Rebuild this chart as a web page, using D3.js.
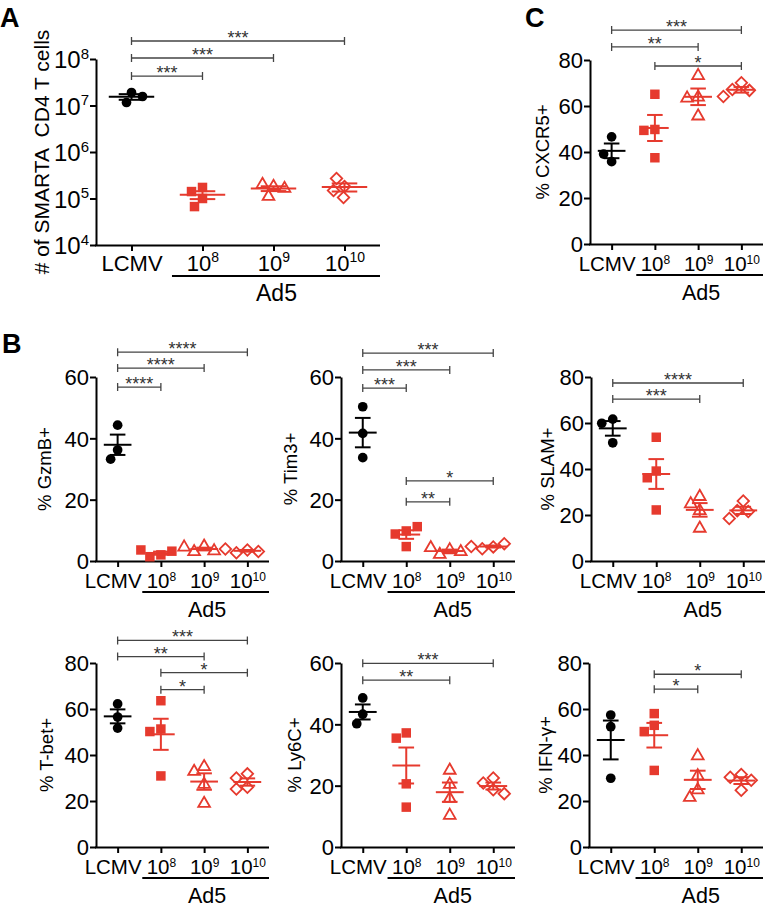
<!DOCTYPE html>
<html>
<head>
<meta charset="utf-8">
<script src="https://cdn.jsdelivr.net/npm/d3@7"></script>
<style>
    body { margin: 0; background: #fff; }
    svg { font-family: "Liberation Sans", Arial, Helvetica, sans-serif; }
</style>
</head>
<body>
<div id="stage"></div>
<script>
(function(d3) {
    'use strict';

    // groups on every x axis
    var groups = ['LCMV', '10^8', '10^9', '10^10'];
    var vectorLabel = 'Ad5';

    // per-mouse values, one array per group
    var cd4Counts = [[1.9e7, 1.16e7, 1.56e7], [1.73e5, 1.41e5, 1.0e5, 6.7e4], [1.81e5, 1.1e5, 1.64e5, 2.0e5], [1.81e5, 2.7e5, 1.49e5, 1.05e5]];
    var cxcr5 = [[46.6, 35.8, 39.1], [65.1, 49.8, 49.4, 37.5], [73.2, 63.8, 63.4, 55.6], [70.1, 67.2, 66.8, 64.1]];
    var gzmb = [[44.3, 36.2, 33.2], [2.0, 1.4, 3.2, 3.6], [4.8, 3.0, 3.3, 4.5], [3.6, 2.7, 3.1, 3.9]];
    var tim3 = [[50.3, 41.6, 33.7], [9.8, 8.8, 11.2, 4.7], [3.6, 2.1, 3.0, 4.3], [4.6, 4.0, 5.6, 4.7]];
    var slam = [[61.7, 59.9, 51.4], [53.8, 39.1, 36.2, 22.2], [28.0, 24.8, 21.9, 14.2], [26.1, 21.9, 21.5, 18.5]];
    var tbet = [[62.2, 56.5, 51.7], [63.6, 51.3, 50.2, 30.9], [34.9, 32.8, 27.2, 18.9], [31.8, 30.0, 26.0, 25.2]];
    var ly6c = [[48.6, 43.3, 40.2], [37.2, 35.5, 20.6, 13.0], [25.0, 20.4, 15.8, 10.3], [22.5, 20.9, 18.7, 17.4]];
    var ifng = [[57.4, 52.3, 29.9], [58.0, 52.9, 50.2, 33.3], [39.6, 30.9, 24.8, 21.5], [31.5, 30.3, 29.0, 24.7]];

    // significance brackets: group indexes, stars, height in data units
    var cd4Sig = [{from: 0, to: 1, label: '***', at: 4.3e7}, {from: 0, to: 2, label: '***', at: 1.05e8}, {from: 0, to: 3, label: '***', at: 2.44e8}];
    var cxcr5Sig = [{from: 1, to: 3, label: '*', at: 77.4}, {from: 0, to: 2, label: '**', at: 85.7}, {from: 0, to: 3, label: '***', at: 93}];
    var gzmbSig = [{from: 0, to: 1, label: '****', at: 56.7}, {from: 0, to: 2, label: '****', at: 62.9}, {from: 0, to: 3, label: '****', at: 68.1}];
    var tim3Sig = [{from: 0, to: 1, label: '***', at: 56.4}, {from: 0, to: 2, label: '***', at: 62.3}, {from: 0, to: 3, label: '***', at: 67.8},
        {from: 1, to: 2, label: '**', at: 19.3}, {from: 1, to: 3, label: '*', at: 26.1}];
    var slamSig = [{from: 0, to: 2, label: '***', at: 70.4}, {from: 0, to: 3, label: '****', at: 77.4}];
    var tbetSig = [{from: 1, to: 2, label: '*', at: 68.4}, {from: 1, to: 3, label: '*', at: 75.8}, {from: 0, to: 2, label: '**', at: 82.8}, {from: 0, to: 3, label: '***', at: 89.8}];
    var ly6cSig = [{from: 0, to: 2, label: '**', at: 54.4}, {from: 0, to: 3, label: '***', at: 59.9}];
    var ifngSig = [{from: 1, to: 2, label: '*', at: 68.6}, {from: 1, to: 3, label: '*', at: 75.1}];

    var logTicks = [1e4, 1e5, 1e6, 1e7, 1e8];
    var ticks60 = [0, 20, 40, 60];
    var ticks80 = [0, 20, 40, 60, 80];

    var red = '#e63a2e';

    var panels = [
        {values: cd4Counts, sig: cd4Sig, title: '# of SMARTA  CD4 T cells', log: true, ticks: logTicks,
            left: 96, top: 59, bottom: 245, width: 284, titleDx: 47, big: true},
        {values: cxcr5, sig: cxcr5Sig, title: '% CXCR5+', ticks: ticks80, left: 590, top: 60, bottom: 244, width: 173, titleDx: 41},
        {values: gzmb, sig: gzmbSig, title: '% GzmB+', ticks: ticks60, left: 96, top: 377, bottom: 561, width: 173, titleDx: 45},
        {values: tim3, sig: tim3Sig, title: '% Tim3+', ticks: ticks60, left: 341, top: 377, bottom: 561, width: 174, titleDx: 44},
        {values: slam, sig: slamSig, title: '% SLAM+', ticks: ticks80, left: 591, top: 377, bottom: 561, width: 174, titleDx: 37},
        {values: tbet, sig: tbetSig, title: '% T-bet+', ticks: ticks80, left: 96, top: 663, bottom: 847, width: 173, titleDx: 43},
        {values: ly6c, sig: ly6cSig, title: '% Ly6C+', ticks: ticks60, left: 341, top: 663, bottom: 847, width: 174, titleDx: 40},
        {values: ifng, sig: ifngSig, title: '% IFN-\u03b3+', ticks: ticks80, left: 589, top: 663, bottom: 847, width: 174, titleDx: 37}
    ];

    var letters = [{text: 'A', x: 0, y: 27}, {text: 'B', x: 2, y: 353}, {text: 'C', x: 525, y: 27}];

    var svg = d3.select('#stage')
        .append('svg')
        .attr('width', 766)
        .attr('height', 907);

    // "10^8" -> 10 with a raised 8
    function powerLabel(sel, txt, supSize) {
        var parts = txt.split('^');
        sel.text(null);
        sel.append('tspan').text(parts[0]);
        if (parts.length > 1) {
            sel.append('tspan')
                .attr('font-size', supSize)
                .attr('dy', '-0.62em')
                .text(parts[1]);
        }
    }

    // spread points sideways so markers do not sit on top of each other
    function dodge(ys, minDist) {
        var placed = [];
        return ys.map(function(yv) {
            var k = 0, cand;
            for (;;) {
                cand = k === 0 ? 0 : (k % 2 ? -Math.ceil(k / 2) : Math.ceil(k / 2));
                var ok = placed.every(function(p) {
                    return Math.hypot(p[0] - cand, p[1] - yv) >= minDist;
                });
                if (ok) { break; }
                k++;
            }
            placed.push([cand, yv]);
            return cand;
        });
    }

    var shapes = [
        {type: d3.symbolCircle, size: 74, filled: true, rot: 0},
        {type: d3.symbolSquare, size: 90, filled: true, rot: 0},
        {type: d3.symbolTriangle, size: 60, filled: false, rot: 0},
        {type: d3.symbolSquare, size: 66, filled: false, rot: 45}
    ];

    panels.forEach(function(p) {
        var g = svg.append('g').attr('transform', 'translate(' + p.left + ',0)');
        var fs = p.big ? {yt: 24, sup: 15, xt: 22, ad: 23, title: 21} : {yt: 22, sup: 13, xt: 20.5, ad: 21.5, title: 18.5};

        var y = (p.log ? d3.scaleLog() : d3.scaleLinear())
            .domain(d3.extent(p.ticks))
            .range([p.bottom, p.top]);

        var x = d3.scalePoint()
            .domain(groups)
            .range([0, p.width])
            .padding(0.5);
        var step = x.step();

        // y axis
        var yAxis = g.append('g')
            .call(d3.axisLeft(y).tickValues(p.ticks).tickSize(6).tickSizeOuter(0).tickPadding(1));
        yAxis.select('.domain').attr('stroke-width', 2);
        yAxis.selectAll('.tick line').attr('stroke-width', 2);
        yAxis.selectAll('.tick text')
            .attr('font-size', fs.yt)
            .attr('fill', '#000')
            .attr('dy', '0.36em')
            .each(function(d) {
                if (p.log) {
                    powerLabel(d3.select(this), '10^' + Math.round(Math.log10(d)), fs.sup);
                }
            });
        yAxis.attr('font-family', null);

        // x axis
        var xAxis = g.append('g')
            .attr('transform', 'translate(0,' + p.bottom + ')')
            .call(d3.axisBottom(x).tickSize(6).tickSizeOuter(0));
        xAxis.select('.domain').attr('stroke-width', 2).attr('d', 'M-1,0.5H' + p.width);
        xAxis.selectAll('.tick line').attr('stroke-width', 2);
        xAxis.selectAll('.tick text')
            .attr('font-size', fs.xt)
            .attr('fill', '#000')
            .attr('y', p.big ? 26 : 27)
            .attr('dy', 0)
            .attr('dx', function(d, i) { return (i === 0 && !p.big) ? -5 : 0; })
            .each(function(d) { powerLabel(d3.select(this), d, fs.sup - 1); });
        xAxis.attr('font-family', null);

        // Ad5 bracket under the three vector doses
        g.append('line')
            .attr('x1', x(groups[1]) - 0.43 * step)
            .attr('x2', p.width)
            .attr('y1', p.bottom + 31)
            .attr('y2', p.bottom + 31)
            .attr('stroke', '#000')
            .attr('stroke-width', 2);
        g.append('text')
            .attr('x', x(groups[2]) + 3)
            .attr('y', p.bottom + 55.5)
            .attr('text-anchor', 'middle')
            .attr('font-size', fs.ad)
            .text(vectorLabel);

        // y title
        g.append('text')
            .attr('transform', 'translate(' + (-p.titleDx) + ',' + ((p.top + p.bottom) / 2) + ') rotate(-90)')
            .attr('text-anchor', 'middle')
            .attr('font-size', fs.title)
            .style('white-space', 'pre')
            .text(p.title);

        // points, mean and SEM
        p.values.forEach(function(vals, i) {
            var colour = i === 0 ? '#000' : red;
            var cx = x(groups[i]);
            var ys = vals.map(function(v) { return y(v); });
            var offs = dodge(ys, 11);
            var shape = shapes[i];
            var sym = d3.symbol().type(shape.type).size(shape.size);

            g.selectAll('.pt' + i)
                .data(vals)
                .enter()
                .append('path')
                .attr('class', 'pt' + i)
                .attr('d', sym)
                .attr('transform', function(d, j) {
                    return 'translate(' + (cx + offs[j]) + ',' + ys[j] + ') rotate(' + shape.rot + ')';
                })
                .attr('fill', shape.filled ? colour : 'none')
                .attr('stroke', shape.filled ? 'none' : colour)
                .attr('stroke-width', 1.8);

            var mean = d3.mean(vals);
            var sem = d3.deviation(vals) / Math.sqrt(vals.length);
            var mw = 0.32 * step, cw = 0.18 * step;
            var lines = [
                [cx - mw, y(mean), cx + mw, y(mean)],
                [cx, y(mean - sem), cx, y(mean + sem)],
                [cx - cw, y(mean + sem), cx + cw, y(mean + sem)],
                [cx - cw, y(mean - sem), cx + cw, y(mean - sem)]
            ];
            g.selectAll('.eb' + i)
                .data(lines)
                .enter()
                .append('line')
                .attr('class', 'eb' + i)
                .attr('x1', function(d) { return d[0]; })
                .attr('y1', function(d) { return d[1]; })
                .attr('x2', function(d) { return d[2]; })
                .attr('y2', function(d) { return d[3]; })
                .attr('stroke', colour)
                .attr('stroke-width', 2);
        });

        // significance brackets
        var br = g.selectAll('.sig')
            .data(p.sig)
            .enter()
            .append('g')
            .attr('class', 'sig');
        br.append('path')
            .attr('d', function(s) {
                var x1 = x(groups[s.from]), x2 = x(groups[s.to]), yy = y(s.at);
                return 'M' + x1 + ',' + yy + 'H' + x2 +
                    'M' + x1 + ',' + (yy - 4) + 'V' + (yy + 4) +
                    'M' + x2 + ',' + (yy - 4) + 'V' + (yy + 4);
            })
            .attr('fill', 'none')
            .attr('stroke', '#444')
            .attr('stroke-width', 1.3);
        br.append('text')
            .attr('x', function(s) { return (x(groups[s.from]) + x(groups[s.to])) / 2; })
            .attr('y', function(s) { return y(s.at) + 3; })
            .attr('text-anchor', 'middle')
            .attr('font-size', 18)
            .attr('fill', '#333')
            .text(function(s) { return s.label; });
    });

    svg.selectAll('.letter')
        .data(letters)
        .enter()
        .append('text')
        .attr('class', 'letter')
        .attr('x', function(d) { return d.x; })
        .attr('y', function(d) { return d.y; })
        .attr('font-size', 27)
        .attr('font-weight', 'bold')
        .text(function(d) { return d.text; });

})(window.d3);
</script>
</body>
</html>
